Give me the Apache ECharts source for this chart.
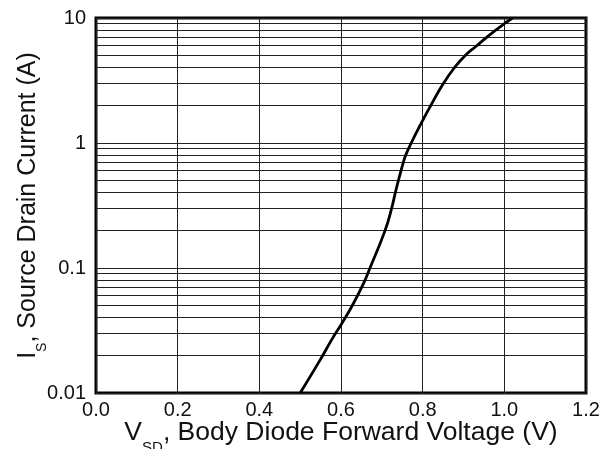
<!DOCTYPE html>
<html>
<head>
<meta charset="utf-8">
<script src="https://cdn.jsdelivr.net/npm/echarts@6/dist/echarts.min.js"></script>
<style>
html,body{margin:0;padding:0;background:#fff;}
#chart{width:616px;height:449px;}
</style>
</head>
<body>
<div id="chart"></div>
<script>
// Body diode forward voltage (V) vs source drain current (A)
const vsd = [0.500, 0.549, 0.577, 0.602, 0.626, 0.655, 0.671, 0.708, 0.724, 0.733, 0.7405, 0.747, 0.7527, 0.7585, 0.772, 0.797, 0.820, 0.851, 0.8776, 0.9037, 0.9323, 0.9567, 0.979, 1.000, 1.020];
const isd = [0.010, 0.0184, 0.0266, 0.036, 0.049, 0.075, 0.100, 0.200, 0.300, 0.400, 0.500, 0.600, 0.700, 0.800, 1.0, 1.45, 2.0, 3.0, 4.0, 5.0, 6.0, 7.0, 8.0, 9.0, 10.0];
const minorGridValues = [0.02,0.03,0.04,0.05,0.06,0.07,0.08,0.09, 0.2,0.3,0.4,0.5,0.6,0.7,0.8,0.9, 2,3,4,5,6,7,8,9];
const xMin = 0, xMax = 1.2, xStep = 0.2;
const yMin = 0.01, yMax = 10;

const chart = echarts.init(document.getElementById('chart'), null, {renderer: 'canvas'});
const font = '"Liberation Sans", Arial, sans-serif';
const gridColor = '#222';

chart.setOption({
  animation: false,
  backgroundColor: '#fff',
  grid: {left: 96, right: 30, top: 18, bottom: 56, outerBoundsMode: 'none', containLabel: false, show: true, borderColor: '#000', borderWidth: 3, backgroundColor: 'transparent'},
  xAxis: {
    type: 'value', min: xMin, max: xMax, interval: xStep,
    axisLine: {show: false}, axisTick: {show: false},
    splitLine: {show: true, lineStyle: {color: gridColor, width: 1}},
    axisLabel: {color: '#111', fontFamily: font, fontSize: 20, margin: 7, formatter: v => v.toFixed(1)},
    name: '{m|V}{s|SD}{m|, Body Diode Forward Voltage (V)}',
    nameLocation: 'middle', nameGap: 26, nameMoveOverlap: false,
    nameTextStyle: {
      color: '#111', fontFamily: font, fontSize: 26.5,
      rich: {
        m: {fontFamily: font, fontSize: 26.5, lineHeight: 26, verticalAlign: 'top', color: '#111'},
        s: {fontFamily: font, fontSize: 15, lineHeight: 15, verticalAlign: 'top', padding: [21, 0, 0, 0], color: '#111'}
      }
    }
  },
  yAxis: {
    type: 'log', logBase: 10, min: yMin, max: yMax,
    axisLine: {show: false}, axisTick: {show: false},
    splitLine: {show: true, lineStyle: {color: gridColor, width: 1}},
    axisLabel: {color: '#111', fontFamily: font, fontSize: 20, margin: 10},
    name: '{m|I}{s|S}{m|, Source Drain Current (A)}',
    nameLocation: 'middle', nameGap: 54, nameRotate: 90, nameMoveOverlap: false,
    nameTextStyle: {
      color: '#111', fontFamily: font, fontSize: 25,
      rich: {
        m: {fontFamily: font, fontSize: 25, lineHeight: 26, verticalAlign: 'top', color: '#111'},
        s: {fontFamily: font, fontSize: 14, lineHeight: 14, verticalAlign: 'top', padding: [19, 0, 0, 0], color: '#111'}
      }
    }
  },
  series: [{
    type: 'line',
    data: vsd.map((v, i) => [v, isd[i]]),
    showSymbol: false,
    smooth: 0.5,
    lineStyle: {color: '#000', width: 2.8},
    z: 5,
    markLine: {
      silent: true, symbol: ['none', 'none'], animation: false,
      label: {show: false},
      lineStyle: {color: gridColor, width: 1, type: 'solid'},
      emphasis: {disabled: true},
      data: minorGridValues.map(v => ({yAxis: v}))
    }
  }]
});
</script>
</body>
</html>
